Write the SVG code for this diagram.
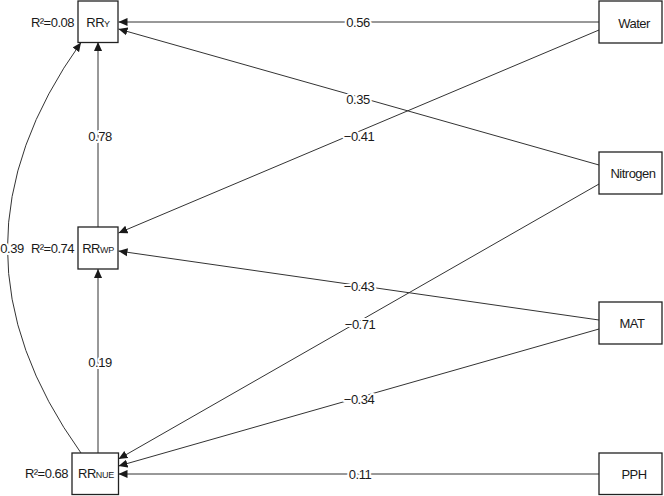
<svg xmlns="http://www.w3.org/2000/svg" width="664" height="496" viewBox="0 0 664 496">
<defs>
<marker id="ah" viewBox="0 0 10 10" refX="10" refY="5" markerUnits="userSpaceOnUse" markerWidth="9" markerHeight="9" orient="auto">
<path d="M0,0.5 L10,5 L0,9.5 Z" fill="#1a1a1a"/>
</marker>
<style>
text{font-family:"Liberation Sans",Arial,sans-serif;font-size:13px;letter-spacing:-0.5px;fill:#1a1a1a}
.box{fill:#fff;stroke:#222;stroke-width:1.3}
.nt{text-anchor:middle}
.sub{font-size:9px;letter-spacing:-0.3px}
.r2{text-anchor:end}
.e{fill:none;stroke:#333;stroke-width:1;marker-end:url(#ah)}
.lb{text-anchor:middle;stroke:#fff;stroke-width:4;paint-order:stroke;stroke-linejoin:round}
</style>
</defs>
<rect width="664" height="496" fill="#fff"/>
<g id="connectors">
<line class="e" x1="599" y1="22" x2="118.5" y2="22"/>
<line class="e" x1="599" y1="30" x2="118.5" y2="233"/>
<line class="e" x1="599" y1="165" x2="118.5" y2="29"/>
<line class="e" x1="599" y1="184" x2="118.5" y2="459"/>
<line class="e" x1="599" y1="320" x2="118.5" y2="251"/>
<line class="e" x1="599" y1="329" x2="118.5" y2="466"/>
<line class="e" x1="599" y1="474" x2="118.5" y2="474"/>
<line class="e" x1="98" y1="227" x2="98" y2="42"/>
<line class="e" x1="98" y1="453" x2="98" y2="269"/>
<path class="e" d="M81,453 Q-66,248 81,42.5"/>
<text class="lb" x="358" y="27">0.56</text>
<text class="lb" x="358" y="104">0.35</text>
<text class="lb" x="359" y="141">−0.41</text>
<text class="lb" x="359" y="291">−0.43</text>
<text class="lb" x="360" y="329">−0.71</text>
<text class="lb" x="359" y="404">−0.34</text>
<text class="lb" x="360" y="479">0.11</text>
<text class="lb" x="100" y="141">0.78</text>
<text class="lb" x="100" y="367">0.19</text>
<text class="lb" x="12" y="253">0.39</text>
</g>
<g id="node-RRY">
<rect class="box" x="78" y="1" width="40" height="41.5"/>
<text class="nt" x="98" y="27">RR<tspan class="sub">Y</tspan></text>
<text class="r2" x="74" y="27">R²=0.08</text>
</g>
<g id="node-RRWP">
<rect class="box" x="78" y="227" width="40" height="42"/>
<text class="nt" x="98" y="253">RR<tspan class="sub">WP</tspan></text>
<text class="r2" x="74" y="253">R²=0.74</text>
</g>
<g id="node-RRNUE">
<rect class="box" x="72" y="453" width="46.5" height="41.5"/>
<text class="nt" x="96" y="478">RR<tspan class="sub">NUE</tspan></text>
<text class="r2" x="68" y="478">R²=0.68</text>
</g>
<g id="node-Water">
<rect class="box" x="599" y="1" width="63" height="42"/>
<text class="nt" x="634" y="27.5">Water</text>
</g>
<g id="node-Nitrogen">
<rect class="box" x="599" y="152" width="63" height="42"/>
<text class="nt" x="633" y="178">Nitrogen</text>
</g>
<g id="node-MAT">
<rect class="box" x="599" y="302" width="63" height="42"/>
<text class="nt" x="632" y="328">MAT</text>
</g>
<g id="node-PPH">
<rect class="box" x="599" y="453" width="63" height="41.5"/>
<text class="nt" x="634" y="479">PPH</text>
</g>
</svg>
